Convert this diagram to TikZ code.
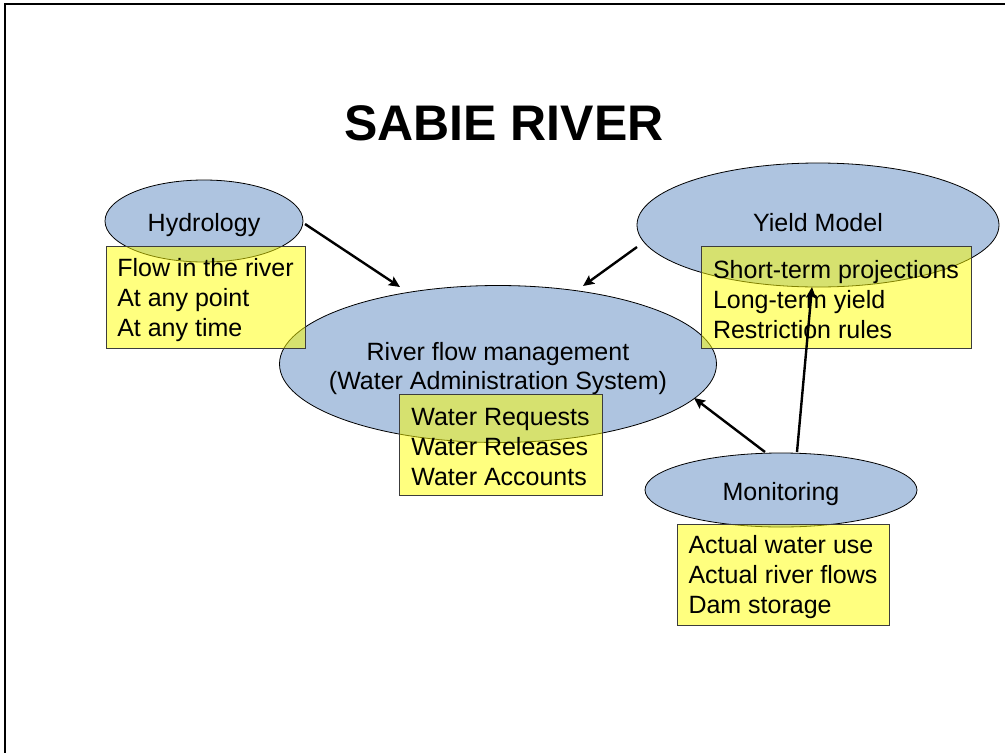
\documentclass[tikz,border=0pt]{standalone}
\usepackage{fontspec}
\setmainfont{Liberation Sans}
\usetikzlibrary{shapes.geometric,arrows.meta}
\definecolor{ellblue}{RGB}{174,196,224}
\definecolor{boxyellow}{RGB}{255,255,0}
\definecolor{boxedge}{RGB}{60,60,60}
\tikzset{
  ell/.style={ellipse, draw=black, line width=0.8pt, fill=ellblue, inner sep=0pt},
  elltext/.style={align=center, font=\fontsize{25}{29}\selectfont, inner sep=0pt},
  infobox/.style={rectangle, draw=boxedge, line width=0.8pt, fill=boxyellow, fill opacity=0.5,
              inner sep=0pt},
  boxtext/.style={align=left, inner sep=0pt, yshift=-3pt, font=\fontsize{25}{30}\selectfont},
  arr/.style={line width=2.4pt, -{Stealth[length=11pt,width=10pt,inset=2pt]}},
  frame/.style={line width=2.4pt, black},
  title/.style={font=\fontsize{50}{56}\selectfont\bfseries}
}
\begin{document}
\begin{tikzpicture}[x=1pt,y=-1pt]
\useasboundingbox (0,0) rectangle (1005,753);
% frame
\draw[frame] (5,753) -- (5,4) -- (1005,4);
% title
\node[title] (title) at (504,123) {SABIE RIVER};
% ellipses
\node[ell, minimum width=198pt, minimum height=82pt,
  label={[elltext, yshift=-4.5pt]center:Hydrology}] (hyd) at (204,221) {};
\node[ell, minimum width=362pt, minimum height=124pt,
  label={[elltext, yshift=2pt]center:Yield Model}] (yld) at (818,225) {};
\node[ell, minimum width=437pt, minimum height=157pt,
  label={[elltext, yshift=-5pt]center:River flow management\\(Water Administration System)}] (rfm) at (498,364) {};
\node[ell, minimum width=272pt, minimum height=74pt,
  label={[elltext, yshift=-4pt]center:Monitoring}] (mon) at (781,490) {};
% boxes
\node[infobox, minimum width=199pt, minimum height=102pt,
  label={[boxtext]center:Flow in the river\\At any point\\At any time}] (hydbox) at (205.5,297) {};
\node[infobox, minimum width=270pt, minimum height=102pt,
  label={[boxtext]center:Short-term projections\\Long-term yield\\Restriction rules}] (yldbox) at (836,297) {};
\node[infobox, minimum width=203pt, minimum height=101pt,
  label={[boxtext]center:Water Requests\\Water Releases\\Water Accounts}] (rfmbox) at (500.5,444.5) {};
\node[infobox, minimum width=212pt, minimum height=101pt,
  label={[boxtext]center:Actual water use\\Actual river flows\\Dam storage}] (monbox) at (783,574.5) {};
% connector endpoints
\coordinate (h1) at (305,224);
\coordinate (h2) at (400,287);
\coordinate (y1) at (637,247);
\coordinate (y2) at (583,286);
\coordinate (m1) at (765,452);
\coordinate (m2) at (694,398);
\coordinate (m3) at (797,452);
\coordinate (m4) at (812,287);
\draw[arr] (h1) -- (h2);
\draw[arr] (y1) -- (y2);
\draw[arr] (m1) -- (m2);
\draw[arr] (m3) -- (m4);
\end{tikzpicture}
\end{document}
